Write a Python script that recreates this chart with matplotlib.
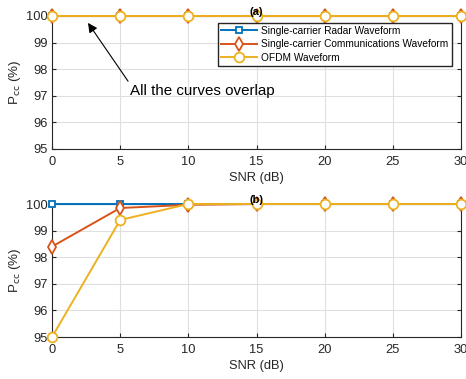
import matplotlib
matplotlib.use("Agg")
import matplotlib.pyplot as plt

plt.rcParams['font.family'] = ['Liberation Sans', 'DejaVu Sans']

snr = [0, 5, 10, 15, 20, 25, 30]

# (a) all curves overlap at 100 %
radar_a = [100, 100, 100, 100, 100, 100, 100]
comm_a = [100, 100, 100, 100, 100, 100, 100]
ofdm_a = [100, 100, 100, 100, 100, 100, 100]

# (b)
radar_b = [100, 100, 100, 100, 100, 100, 100]
comm_b = [98.4, 99.85, 99.97, 100, 100, 100, 100]
ofdm_b = [95.0, 99.4, 100, 100, 100, 100, 100]

labels = ['Single-carrier Radar Waveform',
          'Single-carrier Communications Waveform',
          'OFDM Waveform']
colors = ['#0072BD', '#D95319', '#EDB120']
markers = ['s', 'd', 'o']
msizes = [4.5, 7.5, 7]

fig = plt.figure(figsize=(4.66, 3.79), dpi=100)
ax1 = fig.add_axes([0.1116, 0.6069, 0.8777, 0.3509])
ax2 = fig.add_axes([0.1116, 0.1108, 0.8777, 0.3509])


def style_axes(ax, title):
    ax.set_xlim(0, 30)
    ax.set_ylim(95, 100)
    ax.set_xticks(snr)
    ax.set_yticks([95, 96, 97, 98, 99, 100])
    ax.grid(True, color='#dfdfdf', linewidth=0.8)
    ax.set_axisbelow(True)
    ax.tick_params(direction='in', length=3, labelsize=9.3, colors='#262626',
                   top=True, right=True, pad=3)
    ax.tick_params(axis='x', pad=5)
    for s in ax.spines.values():
        s.set_color('#262626')
        s.set_linewidth(0.8)
    ax.set_xlabel('SNR (dB)', fontsize=9.3, color='#262626', labelpad=3)
    ax.set_ylabel(r'P$_{\mathrm{cc}}$ (%)', fontsize=9.6, color='#262626', labelpad=2)
    ax.set_title(title, fontsize=8, fontweight='bold', pad=1)


def draw(ax, series):
    for y, c, m, ms, lab in zip(series, colors, markers, msizes, labels):
        ax.plot(snr, y, color=c, marker=m, markersize=ms, markerfacecolor='white',
                markeredgewidth=1.3, linewidth=1.4, label=lab, clip_on=False, zorder=3)


draw(ax1, [radar_a, comm_a, ofdm_a])
style_axes(ax1, '(a)')
ax1.legend(loc='upper right', bbox_to_anchor=(0.977, 0.95), fontsize=7.25, frameon=True,
           fancybox=False, edgecolor='#262626', framealpha=1, handlelength=3.6,
           borderpad=0.3, labelspacing=0.35, handletextpad=0.4, borderaxespad=0)
ax1.annotate('All the curves overlap', xy=(2.64, 99.74), xytext=(5.72, 97.18),
             fontsize=10.9, color='black', va='center', ha='left',
             arrowprops=dict(arrowstyle='-|>', color='black', lw=0.8,
                             shrinkA=0, shrinkB=0, mutation_scale=14,
                             relpos=(0, 1)))

draw(ax2, [radar_b, comm_b, ofdm_b])
style_axes(ax2, '(b)')

fig.savefig('out.png', dpi=100)
